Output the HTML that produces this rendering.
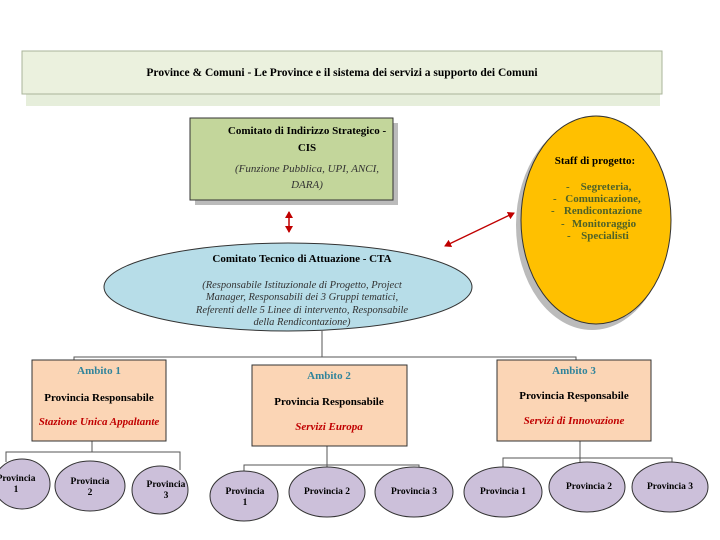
<!DOCTYPE html>
<html><head><meta charset="utf-8"><style>
html,body{margin:0;padding:0;background:#fff;}
svg{display:block;font-family:"Liberation Serif",serif;}
</style></head><body>
<svg width="720" height="540" viewBox="0 0 720 540" xmlns="http://www.w3.org/2000/svg">
<defs>
<marker id="ar" markerWidth="8" markerHeight="8" refX="6" refY="4" orient="auto-start-reverse" markerUnits="userSpaceOnUse"><path d="M0,0 L7,4 L0,8 z" fill="#c00000"/></marker>
</defs>
<rect x="26" y="92" width="634" height="14" fill="#e6eedb"/>
<rect x="22" y="51" width="640" height="43" fill="#ebf1de" stroke="#aab49a" stroke-width="1"/>
<text x="342" y="76" text-anchor="middle" font-size="11.5" font-weight="bold">Province &amp; Comuni - Le Province e il sistema dei servizi a supporto dei Comuni</text>
<rect x="195" y="123" width="203" height="82" fill="#bbb"/>
<rect x="190" y="118" width="203" height="82" fill="#c3d69b" stroke="#333" stroke-width="1"/>
<text font-size="11" font-weight="bold" text-anchor="middle"><tspan x="307" y="134">Comitato di Indirizzo Strategico -</tspan><tspan x="307" y="151">CIS</tspan></text>
<text font-size="11" font-style="italic" text-anchor="middle" fill="#333"><tspan x="307" y="172">(Funzione Pubblica, UPI, ANCI,</tspan><tspan x="307" y="188">DARA)</tspan></text>
<line x1="289" y1="212" x2="289" y2="232" stroke="#c00000" stroke-width="1.5" marker-start="url(#ar)" marker-end="url(#ar)"/>
<line x1="445" y1="246" x2="514" y2="213" stroke="#c00000" stroke-width="1.3" marker-start="url(#ar)" marker-end="url(#ar)"/>
<ellipse cx="288" cy="287" rx="184" ry="44" fill="#b7dde8" stroke="#333" stroke-width="1"/>
<text x="302" y="262" text-anchor="middle" font-size="11" font-weight="bold">Comitato Tecnico di Attuazione  - CTA</text>
<text font-size="10.5" font-style="italic" text-anchor="middle" fill="#333"><tspan x="302" y="288">(Responsabile Istituzionale di Progetto, Project</tspan><tspan x="302" y="300">Manager, Responsabili dei 3 Gruppi tematici,</tspan><tspan x="302" y="313">Referenti delle 5 Linee di intervento, Responsabile</tspan><tspan x="302" y="325">della Rendicontazione)</tspan></text>
<ellipse cx="592" cy="225" rx="76" ry="105" fill="#bbb"/>
<ellipse cx="596" cy="220" rx="75" ry="104" fill="#ffc000" stroke="#333" stroke-width="1"/>
<text x="595" y="164" text-anchor="middle" font-size="11" font-weight="bold">Staff di progetto:</text>
<g font-size="11" font-weight="bold" fill="#4f6228">
<text x="566" y="190">-</text><text x="606" y="190" text-anchor="middle">Segreteria,</text>
<text x="553" y="202">-</text><text x="603" y="202" text-anchor="middle">Comunicazione,</text>
<text x="551" y="214">-</text><text x="603" y="214" text-anchor="middle">Rendicontazione</text>
<text x="561" y="227">-</text><text x="604" y="227" text-anchor="middle">Monitoraggio</text>
<text x="567" y="239">-</text><text x="605" y="239" text-anchor="middle">Specialisti</text>
</g>
<g stroke="#555" stroke-width="1" fill="none">
<path d="M322 331 V357 M74 360 V357 H576 V360"/>
<path d="M92 441 V452 M6 462 V452 H180 V470"/>
<path d="M327 446 V473 M244 473 V465 H419 V468"/>
<path d="M580 441 V462 M503 467 V458 H672 V462"/>
</g>
<g stroke="#333" stroke-width="1" fill="#fbd5b5">
<rect x="32" y="360" width="134" height="81"/>
<rect x="252" y="365" width="155" height="81"/>
<rect x="497" y="360" width="154" height="81"/>
</g>
<g font-size="11" font-weight="bold" text-anchor="middle">
<text x="99" y="374" fill="#31849b">Ambito 1</text>
<text x="99" y="401">Provincia Responsabile</text>
<text x="99" y="425" fill="#c00000" font-style="italic">Stazione Unica Appaltante</text>
<text x="329" y="379" fill="#31849b">Ambito 2</text>
<text x="329" y="405">Provincia Responsabile</text>
<text x="329" y="430" fill="#c00000" font-style="italic">Servizi Europa</text>
<text x="574" y="374" fill="#31849b">Ambito 3</text>
<text x="574" y="399">Provincia Responsabile</text>
<text x="574" y="424" fill="#c00000" font-style="italic">Servizi di Innovazione</text>
</g>
<g fill="#ccc0da" stroke="#333" stroke-width="1">
<ellipse cx="22" cy="484" rx="28" ry="25"/>
<ellipse cx="90" cy="486" rx="35" ry="25"/>
<ellipse cx="160" cy="490" rx="28" ry="24"/>
<ellipse cx="244" cy="496" rx="34" ry="25"/>
<ellipse cx="327" cy="492" rx="38" ry="25"/>
<ellipse cx="414" cy="492" rx="39" ry="25"/>
<ellipse cx="503" cy="492" rx="39" ry="25"/>
<ellipse cx="587" cy="487" rx="38" ry="25"/>
<ellipse cx="670" cy="487" rx="38" ry="25"/>
</g>
<g font-size="9.5" font-weight="bold" text-anchor="middle">
<text x="16" y="481">Provincia</text><text x="16" y="492">1</text>
<text x="90" y="484">Provincia</text><text x="90" y="495">2</text>
<text x="166" y="487">Provincia</text><text x="166" y="498">3</text>
<text x="245" y="494">Provincia</text><text x="245" y="505">1</text>
<text x="327" y="494">Provincia 2</text>
<text x="414" y="494">Provincia 3</text>
<text x="503" y="494">Provincia 1</text>
<text x="589" y="489">Provincia 2</text>
<text x="670" y="489">Provincia 3</text>
</g>
</svg>
</body></html>
